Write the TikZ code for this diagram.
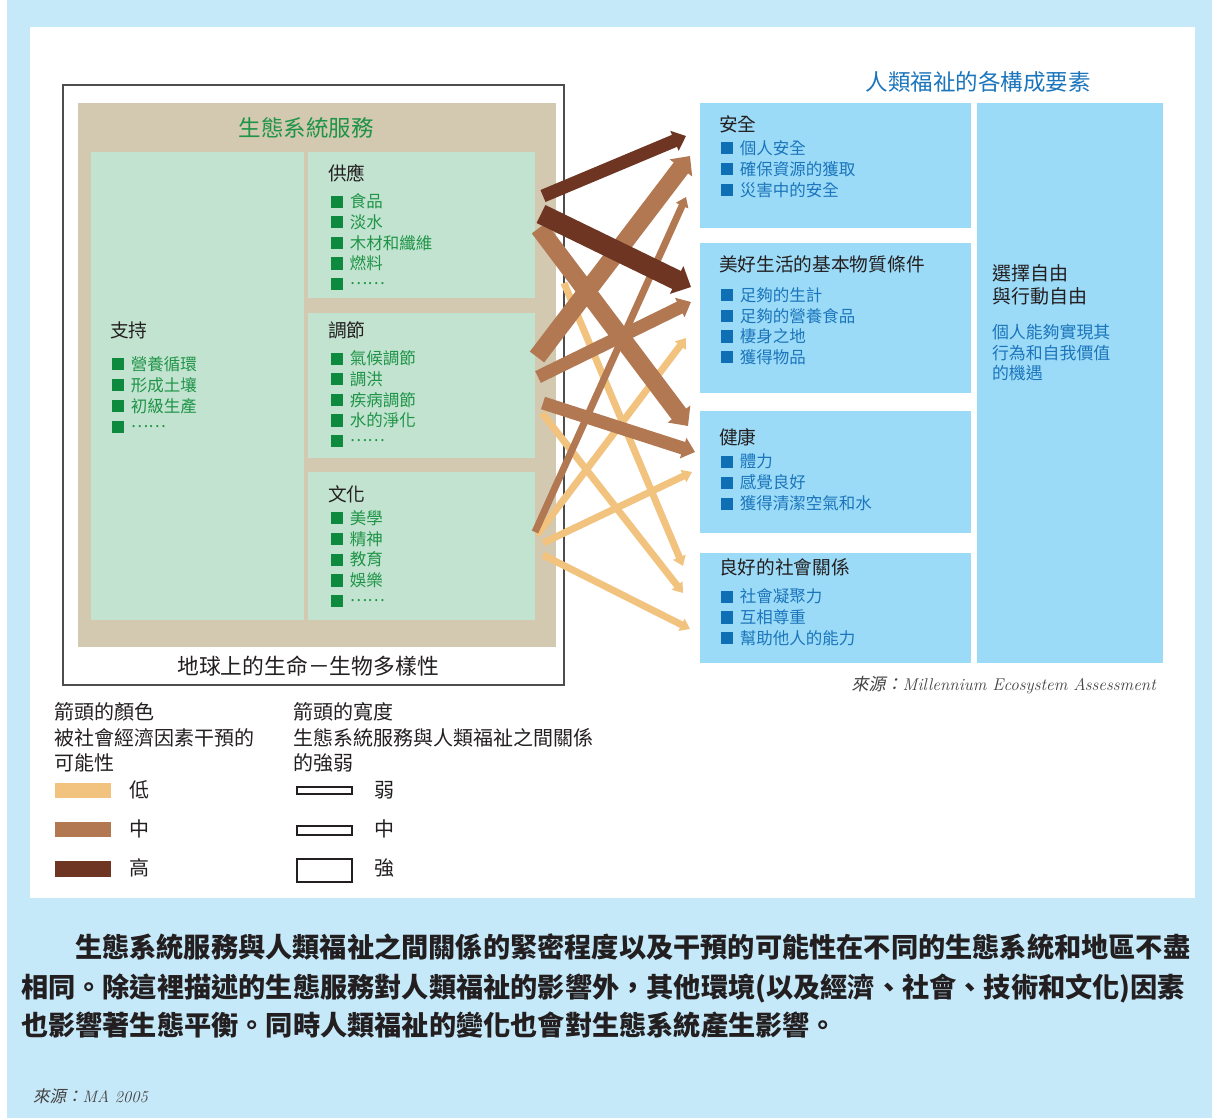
\documentclass[tikz,border=0pt]{standalone}
\usepackage{fontspec}
\usetikzlibrary{arrows.meta}
\newfontfamily\cjk{Noto Sans CJK TC}
\newfontfamily\cjkit{Noto Sans CJK TC}[FakeSlant=0.2]
\definecolor{bgblue}{HTML}{C6E9F9}
\definecolor{boxblue}{HTML}{9CDBF7}
\definecolor{tblue}{HTML}{1B75BC}
\definecolor{sqblue}{HTML}{0F6FB5}
\definecolor{tanbg}{HTML}{D3C8B0}
\definecolor{mintbg}{HTML}{C2E3D0}
\definecolor{tgreen}{HTML}{1E9447}
\definecolor{sqgreen}{HTML}{0D8A3E}
\definecolor{tblack}{HTML}{231F20}
\definecolor{framegray}{HTML}{4D4D4D}
\definecolor{arL}{HTML}{F2C37F}
\definecolor{arM}{HTML}{B17852}
\definecolor{arD}{HTML}{6E3622}
\newcommand\sqg{\textcolor{sqgreen}{\rule{0.74em}{0.74em}}\hspace{0.4em}}
\newcommand\sqb{\textcolor{sqblue}{\rule{0.74em}{0.74em}}\hspace{0.4em}}
\newcommand\cdts{\raisebox{0.34em}{……}}
\tikzset{
  basetxt/.style={inner sep=0pt, outer sep=0pt, anchor=base west},
  hd/.style={basetxt, text=tblack, font={\cjk\fontsize{18.7}{22}\selectfont}, yshift=-7.1pt},
  itg/.style={basetxt, text=tgreen, font={\cjk\fontsize{16.5}{20}\selectfont}, yshift=-6.3pt},
  itb/.style={basetxt, text=tblue, font={\cjk\fontsize{16.5}{20}\selectfont}, yshift=-6.3pt},
  rhd/.style={basetxt, text=tblack, font={\cjk\fontsize{19}{22}\selectfont}, yshift=-7.2pt},
  rit/.style={basetxt, text=tblue, font={\cjk\fontsize{16.9}{20}\selectfont}, yshift=-6.4pt},
  lg/.style={basetxt, text=tblack, font={\cjk\fontsize{20}{24}\selectfont}, yshift=-7.6pt},
  body/.style={basetxt, text=tblack, font={\cjk\bfseries\fontsize{27.2}{30}\selectfont}, yshift=-10.3pt},
  ttl/.style={inner sep=0pt, outer sep=0pt, anchor=base, font={\cjk\fontsize{22.5}{26}\selectfont}, yshift=-8.6pt},
  lifettl/.style={inner sep=0pt, outer sep=0pt, anchor=base, font={\cjk\fontsize{21.8}{26}\selectfont}, yshift=-8.3pt},
  arr/.style={-{Triangle[length=6pt 0.5, width=4pt 1.3]}},
  weakar/.style={arr, line width=7pt},
  medar/.style={arr, line width=13pt},
  strongar/.style={arr, line width=18pt},
  xstrongar/.style={arr, line width=20pt},
}
\begin{document}
\begin{tikzpicture}[x=1pt, y=-1pt]
\useasboundingbox (0,0) rectangle (1217,1118);
% backgrounds
\fill[white] (0,0) rectangle (1217,1118);
\fill[bgblue] (7,0) rectangle (1212,1118);
\fill[white] (30,27) rectangle (1195,898);

% left: ecosystem services
\draw[framegray, line width=2pt] (63,85) rectangle (564,685);
\fill[tanbg] (78,103) rectangle (556,647);
\fill[mintbg] (91,152) rectangle (304,620);
\fill[mintbg] (308,152) rectangle (535,298);
\fill[mintbg] (308,313) rectangle (535,458);
\fill[mintbg] (308,472) rectangle (535,620);
\node[ttl, text=tgreen] (es) at (306,128) {生態系統服務};
\node[lifettl, text=tblack] (life) at (308,666) {地球上的生命－生物多樣性};

\node[hd] (hsup) at (110,330) {支持};
\foreach \t [count=\i from 0] in {營養循環,形成土壤,初級生產,\cdts}
  \node[itg] (su\i) at (112,{364+\i*21}) {\sqg\t};
\node[hd] (hprov) at (328,173) {供應};
\foreach \t [count=\i from 0] in {食品,淡水,木材和纖維,燃料,\cdts}
  \node[itg] (pv\i) at (331,{201.5+\i*20.6}) {\sqg\t};
\node[hd] (hreg) at (328,330) {調節};
\foreach \t [count=\i from 0] in {氣候調節,調洪,疾病調節,水的淨化,\cdts}
  \node[itg] (rg\i) at (331,{358.5+\i*20.6}) {\sqg\t};
\node[hd] (hcul) at (328,494) {文化};
\foreach \t [count=\i from 0] in {美學,精神,教育,娛樂,\cdts}
  \node[itg] (cu\i) at (331,{518+\i*20.75}) {\sqg\t};

% right: human well-being
\node[ttl, text=tblue] (hw) at (978,82) {人類福祉的各構成要素};
\fill[boxblue] (700,103) rectangle (971,228);
\fill[boxblue] (700,243) rectangle (971,393);
\fill[boxblue] (700,411) rectangle (971,533);
\fill[boxblue] (700,553) rectangle (971,663);
\fill[boxblue] (977,103) rectangle (1163,663);

\node[hd] (hsec) at (719,124.5) {安全};
\foreach \t [count=\i from 0] in {個人安全,確保資源的獲取,災害中的安全}
  \node[itb] (se\i) at (721,{148+\i*21}) {\sqb\t};
\node[hd] (hmat) at (719,264.5) {美好生活的基本物質條件};
\foreach \t [count=\i from 0] in {足夠的生計,足夠的營養食品,棲身之地,獲得物品}
  \node[itb] (ma\i) at (721,{295+\i*20.7}) {\sqb\t};
\node[hd] (hhea) at (719,437) {健康};
\foreach \t [count=\i from 0] in {體力,感覺良好,獲得清潔空氣和水}
  \node[itb] (he\i) at (721,{461.5+\i*21}) {\sqb\t};
\node[hd] (hsoc) at (719,567) {良好的社會關係};
\foreach \t [count=\i from 0] in {社會凝聚力,互相尊重,幫助他人的能力}
  \node[itb] (so\i) at (721,{596.5+\i*20.8}) {\sqb\t};

\node[rhd] (fr1) at (992,273) {選擇自由};
\node[rhd] (fr2) at (992,296) {與行動自由};
\node[rit] (fr3) at (992,332) {個人能夠實現其};
\node[rit] (fr4) at (992,353) {行為和自我價值};
\node[rit] (fr5) at (992,373) {的機遇};

\node[inner sep=0pt, anchor=base east, text=tblack!85, font=\fontsize{17}{20}\selectfont] (src) at (1156,690)
  {{\cjkit 來源：}\itshape Millennium Ecosystem Assessment};

% arrow end points
\coordinate (d1s) at (543,196); \coordinate (d1e) at (686,136);
\coordinate (d2s) at (541,214); \coordinate (d2e) at (691,287);
\coordinate (m1s) at (539,228); \coordinate (m1e) at (688,426);
\coordinate (m2s) at (537,357); \coordinate (m2e) at (690,156);
\coordinate (m3s) at (538,377); \coordinate (m3e) at (691,302);
\coordinate (m4s) at (543,403); \coordinate (m4e) at (695,452);
\coordinate (m5s) at (535,532); \coordinate (m5e) at (686,197);
\coordinate (l1s) at (564,283); \coordinate (l1e) at (683,566);
\coordinate (l2s) at (542,413); \coordinate (l2e) at (683,593);
\coordinate (l3s) at (537,535); \coordinate (l3e) at (686,338);
\coordinate (l4s) at (543,543); \coordinate (l4e) at (692,472);
\coordinate (l5s) at (543,555); \coordinate (l5e) at (690,629);

% arrows: low
\draw[weakar, arL] (l1s) -- (l1e);
\draw[weakar, arL] (l2s) -- (l2e);
\draw[weakar, arL] (l3s) -- (l3e);
\draw[weakar, arL] (l4s) -- (l4e);
\draw[weakar, arL] (l5s) -- (l5e);
% medium
\draw[weakar, arM] (m5s) -- (m5e);
\draw[strongar, arM] (m1s) -- (m1e);
\draw[strongar, arM] (m2s) -- (m2e);
\draw[medar, arM] (m3s) -- (m3e);
\draw[medar, arM] (m4s) -- (m4e);
% high
\draw[medar, arD] (d1s) -- (d1e);
\draw[xstrongar, arD] (d2s) -- (d2e);

% legend
\node[lg] (lc1) at (54,712) {箭頭的顏色};
\node[lg] (lc2) at (54,737.5) {被社會經濟因素干預的};
\node[lg] (lc3) at (54,763) {可能性};
\fill[arL] (55,783) rectangle (111,798);
\fill[arM] (55,822) rectangle (111,837);
\fill[arD] (55,861) rectangle (111,877);
\node[lg] (llo) at (129,790) {低};
\node[lg] (lme) at (129,829) {中};
\node[lg] (lhi) at (129,868) {高};

\node[lg] (lw1) at (293,712) {箭頭的寬度};
\node[lg] (lw2) at (293,737.5) {生態系統服務與人類福祉之間關係};
\node[lg] (lw3) at (293,763) {的強弱};
\draw[tblack, line width=1.4pt, fill=white] (297,787) rectangle (352,794);
\draw[tblack, line width=1.4pt, fill=white] (297,826) rectangle (352,835);
\draw[tblack, line width=1.4pt, fill=white] (297,859) rectangle (352,882);
\node[lg] (lwk) at (374,790) {弱};
\node[lg] (lwm) at (374,829) {中};
\node[lg] (lws) at (374,868) {強};

% bottom paragraph
\node[body] (p1) at (75,947) {生態系統服務與人類福祉之間關係的緊密程度以及干預的可能性在不同的生態系統和地區不盡};
\node[body] (p2) at (21,987.5) {相同。除這裡描述的生態服務對人類福祉的影響外，其他環境(以及經濟、社會、技術和文化)因素};
\node[body] (p3) at (21,1025.5) {也影響著生態平衡。同時人類福祉的變化也會對生態系統產生影響。};
\node[inner sep=0pt, anchor=base west, text=tblack!85, font=\fontsize{16.5}{19}\selectfont] (src2) at (33,1102)
  {{\cjkit 來源：}\itshape MA 2005};
\end{tikzpicture}
\end{document}
